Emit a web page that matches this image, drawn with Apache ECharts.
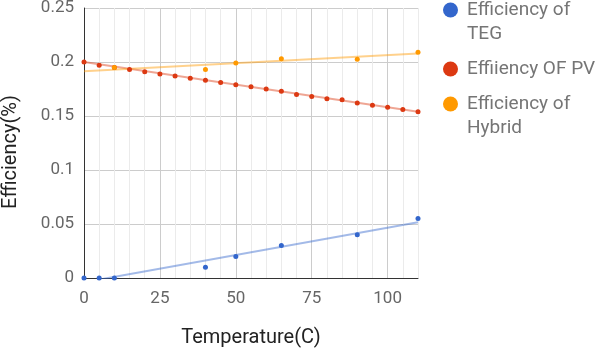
<!DOCTYPE html>
<html>
<head>
<meta charset="utf-8">
<script src="https://cdn.jsdelivr.net/npm/echarts@6/dist/echarts.min.js"></script>
<style>
  html, body { margin: 0; padding: 0; background: #fff; }
  #main { width: 600px; height: 349px; }
</style>
</head>
<body>
<div id="main"></div>
<script>
// data
var tempPV = [0, 5, 10, 15, 20, 25, 30, 35, 40, 45, 50, 55, 60, 65, 70, 75, 80, 85, 90, 95, 100, 105, 110];
var effPV = [0.200, 0.197, 0.195, 0.193, 0.191, 0.189, 0.187, 0.185, 0.183, 0.181, 0.179, 0.177, 0.175, 0.173,
             0.170, 0.168, 0.166, 0.165, 0.162, 0.160, 0.158, 0.156, 0.154];
var tempTEG = [0, 5, 10, 40, 50, 65, 90, 110];
var effTEG = [0, 0, 0, 0.010, 0.020, 0.030, 0.040, 0.055];
var tempHybrid = [10, 40, 50, 65, 90, 110];
var effHybrid = [0.195, 0.193, 0.199, 0.203, 0.2025, 0.209];

// trendline end points (x = 0 and x = 110)
var trendX = [0, 110];
var trendTEG = [-0.004, 0.0516];
var trendPV = [0.200, 0.154];
var trendHybrid = [0.1915, 0.2078];

var names = ['Efficiency of\nTEG', 'Effiiency OF PV', 'Efficiency of\nHybrid'];
var colors = ['#3366cc', '#dc3912', '#ff9900'];

// legend dots: circle at top of the box for two-line labels, in the middle for one-line
var dotTop = 'path://M0,0L0,0M19,39L19,39M0,7.5A7.5,7.5 0 1,1 15,7.5A7.5,7.5 0 1,1 0,7.5Z';
var dotMid = 'path://M0,0L0,0M19,39L19,39M0,19.5A7.5,7.5 0 1,1 15,19.5A7.5,7.5 0 1,1 0,19.5Z';

function pairs(xs, ys) {
  return xs.map(function (x, i) { return [x, ys[i]]; });
}

var chart = echarts.init(document.getElementById('main'));

var option = {
  animation: false,
  textStyle: { fontFamily: 'Roboto' },
  grid: { left: 84, right: 182, top: 8, bottom: 71, outerBoundsMode: 'none' },
  legend: {
    orient: 'vertical',
    left: 443,
    top: -2,
    padding: 0,
    itemWidth: 19,
    itemHeight: 39,
    itemGap: 3.5,
    data: [
      { name: names[0], icon: dotTop },
      { name: names[1], icon: dotMid },
      { name: names[2], icon: dotTop }
    ],
    textStyle: { fontSize: 19, color: '#757575', lineHeight: 24 }
  },
  xAxis: {
    type: 'value',
    min: 0,
    max: 110,
    interval: 5,
    name: 'Temperature(C)',
    nameLocation: 'middle',
    nameGap: 50,
    nameTextStyle: { fontSize: 20, color: '#222' },
    axisLine: { lineStyle: { color: '#333', width: 1 } },
    axisTick: { show: false },
    axisLabel: {
      fontSize: 17, color: '#666', margin: 12,
      formatter: function (v) { return v % 25 === 0 ? v : ''; }
    },
    splitLine: { lineStyle: { color: ['#cccccc', '#ebebeb', '#ebebeb', '#ebebeb', '#ebebeb'] } }
  },
  yAxis: {
    type: 'value',
    min: 0,
    max: 0.25,
    interval: 0.05,
    name: 'Efficiency(%)',
    nameLocation: 'middle',
    nameGap: 63,
    nameTextStyle: { fontSize: 20, color: '#222', padding: [0, 18, 0, 0] },
    axisLine: { show: true, lineStyle: { color: '#333', width: 1 } },
    axisTick: { show: false },
    axisLabel: { fontSize: 17, color: '#666', margin: 10 },
    splitLine: { lineStyle: { color: '#cccccc' } }
  },
  series: [
    {
      name: names[0], type: 'scatter', symbolSize: 5, z: 5,
      itemStyle: { color: colors[0], opacity: 1 },
      data: pairs(tempTEG, effTEG)
    },
    {
      name: names[1], type: 'scatter', symbolSize: 5, z: 5,
      itemStyle: { color: colors[1], opacity: 1 },
      data: pairs(tempPV, effPV)
    },
    {
      name: names[2], type: 'scatter', symbolSize: 5, z: 5,
      itemStyle: { color: colors[2], opacity: 1 },
      data: pairs(tempHybrid, effHybrid)
    },
    {
      type: 'line', showSymbol: false, silent: true, clip: true, z: 3,
      lineStyle: { color: colors[0], width: 2, opacity: 0.45 },
      data: pairs(trendX, trendTEG)
    },
    {
      type: 'line', showSymbol: false, silent: true, clip: true, z: 3,
      lineStyle: { color: colors[1], width: 2, opacity: 0.45 },
      data: pairs(trendX, trendPV)
    },
    {
      type: 'line', showSymbol: false, silent: true, clip: true, z: 3,
      lineStyle: { color: colors[2], width: 2, opacity: 0.45 },
      data: pairs(trendX, trendHybrid)
    }
  ]
};

chart.setOption(option);
window.addEventListener('resize', function () {
  chart.resize();
});
</script>
</body>
</html>
